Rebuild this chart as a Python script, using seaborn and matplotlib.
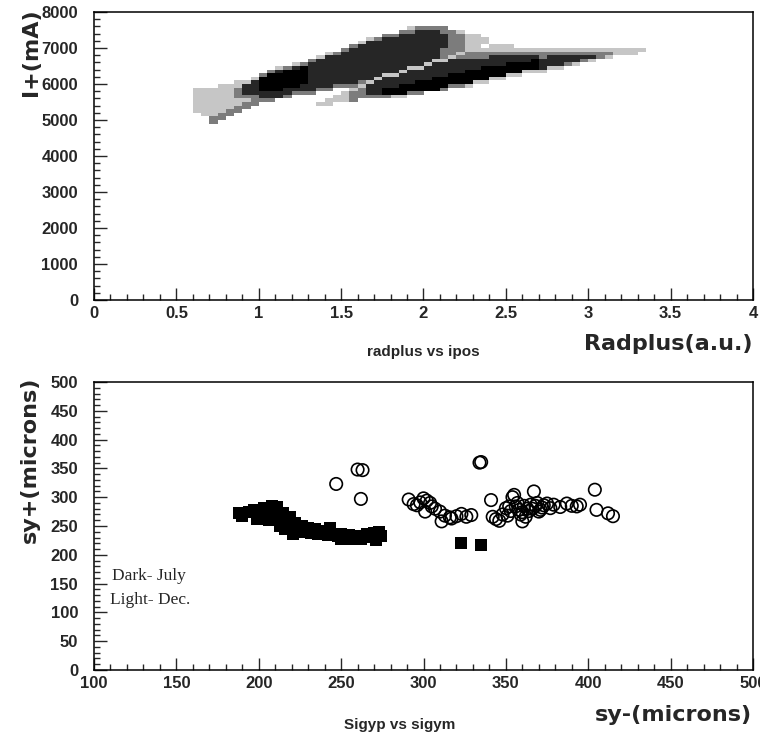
import matplotlib
matplotlib.use("Agg")
import matplotlib.pyplot as plt
from matplotlib.colors import ListedColormap
from matplotlib.ticker import MultipleLocator, FuncFormatter
import pandas as pd
import seaborn as sns

# ---------------- data ----------------
# Upper panel: density map of the radplus / ipos cloud.
# Each row is one 100 mA band (lower edge in cloud_y), each character one
# 0.05 a.u. column starting at radplus = 0.55 ('|' only groups columns by ten).
# ' ' empty, '.' sparse, ':' medium, '#' dense, '@' saturated
cloud_y = [7500, 7400, 7300, 7200, 7100, 7000, 6900, 6800, 6700, 6600, 6500,
           6400, 6300, 6200, 6100, 6000, 5900, 5800, 5700, 5600, 5500, 5400,
           5300, 5200, 5100, 5000, 4900]
cloud_rows = [
    "          |          |       .::|::        |          |      ",
    "          |          |      ::##|#::.      |          |      ",
    "          |          |    ::####|##::..    |          |      ",
    "          |          |  .:######|##::...   |          |      ",
    "          |          | .########|##::...   |          |      ",
    "          |          |:#########|##::.. ...|          |      ",
    "          |         :|##########|#:::......|..........|......",
    "          |       .:#|##########|#::.::::::|::::::::::|::... ",
    "          |      .###|##########|#:.::::###|###:######|:.    ",
    "          |     :####|##########|..########|##@#####:.|      ",
    "          |   .:#####|#########.|#########@|@@@###:.  |      ",
    "          | .:#@#####|#######..#|######@@@@|@@@#..    |      ",
    "          |:#@@@#####|######.###|####@@@@@@|@...      |      ",
    "         :|@@@@@#####|####..####|##@@@@@@@.|.         |      ",
    "        .@|@@@@@#####|###.######|@@@@@@@.. |          |      ",
    "      ..#@|@@@@@#####|#:.#####@@|@@@@@..   |          |      ",
    "    ...##@|@@@@####::|:.####@@@@|@@::.     |          |      ",
    " .....:##@|@@####::  |.:##@@@@@@|@:        |          |      ",
    " .....:###|###:::   .|::##@@@:: |          |          |      ",
    " .....:::#|##:     ..|:::::..   |          |          |      ",
    " .......::|:      ...|:         |          |          |      ",
    " ......:: |      ..  |          |          |          |      ",
    " .....::  |          |          |          |          |      ",
    " ....::   |          |          |          |          |      ",
    "  ..::    |          |          |          |          |      ",
    "   ::     |          |          |          |          |      ",
    "   :      |          |          |          |          |      ",
]
cloud_x0 = 0.55
cloud_dx = 0.05
cloud_dy = 100
cloud_levels = {".": 1, ":": 2, "#": 3, "@": 4}

# Lower panel: beam sizes, dark squares = July, open circles = December
july_sigym = [188, 190, 194, 197, 199, 201, 203, 205, 206, 208, 209, 211, 212,
              213, 215, 216, 217, 219, 220, 221, 222, 224, 226, 228, 230, 232,
              234, 236, 238, 240, 242, 243, 246, 248, 250, 250, 252, 255, 256,
              257, 259, 262, 264, 266, 267, 270, 271, 273, 274, 323, 335]
july_sigyp = [272, 268, 275, 278, 262, 270, 282, 276, 260, 284, 270, 283, 262,
              250, 272, 244, 258, 266, 248, 236, 255, 245, 250, 240, 246, 238,
              244, 236, 242, 240, 235, 247, 234, 232, 236, 228, 230, 234, 227,
              232, 230, 228, 233, 236, 231, 238, 226, 240, 233, 220, 217]
dec_sigym = [247, 260, 263, 262, 334, 335, 404, 291, 294, 296, 298, 300, 301,
             302, 304, 305, 307, 310, 311, 313, 316, 317, 320, 323, 326, 329,
             341, 342, 344, 346, 348, 350, 351, 352, 353, 354, 355, 356, 357,
             358, 359, 360, 360, 361, 362, 363, 364, 365, 366, 367, 368, 369,
             370, 371, 372, 373, 375, 377, 379, 383, 387, 390, 393, 395, 405,
             412, 415]
dec_sigyp = [323, 348, 347, 297, 360, 361, 313, 296, 288, 286, 291, 298, 275,
             294, 290, 284, 280, 275, 258, 268, 265, 263, 267, 271, 266, 269,
             295, 266, 262, 259, 270, 281, 268, 284, 276, 300, 304, 284, 290,
             278, 270, 274, 258, 285, 266, 280, 276, 287, 280, 310, 285, 290,
             275, 278, 282, 286, 289, 281, 287, 283, 289, 285, 284, 287, 278,
             272, 267]

# ---------------- style ----------------
sns.set_style("ticks")
plt.rcParams["font.family"] = ["Liberation Sans", "DejaVu Sans"]
plt.rcParams["font.weight"] = "bold"
plt.rcParams["axes.linewidth"] = 1.1

TITLE_FONT = dict(family=["DejaVu Sans"], weight="bold", size=16)
NOTE_FONT = dict(family=["Liberation Sans"], weight="bold", size=11)

W, H = 760, 734
fig = plt.figure(figsize=(W / 100, H / 100), dpi=100)
fig.patch.set_facecolor("white")

ax1 = fig.add_axes([94 / W, 1 - 300 / H, 659 / W, 288 / H])
ax2 = fig.add_axes([94 / W, 1 - 670 / H, 659 / W, 288 / H])


def style_axis(ax, xmaj, xmin, ymaj, ymin):
    ax.xaxis.set_major_locator(MultipleLocator(xmaj))
    ax.xaxis.set_minor_locator(MultipleLocator(xmin))
    ax.yaxis.set_major_locator(MultipleLocator(ymaj))
    ax.yaxis.set_minor_locator(MultipleLocator(ymin))
    ax.tick_params(which="major", direction="in", length=9, width=1.0,
                   labelsize=12, top=False, right=False)
    ax.tick_params(which="minor", direction="in", length=4.5, width=1.0,
                   top=False, right=False)
    ax.tick_params(axis="x", which="major", pad=4.5)
    ax.tick_params(axis="y", which="major", pad=11.5)
    for lab in ax.get_xticklabels() + ax.get_yticklabels():
        lab.set_fontweight("bold")
    ax.set_xlabel("")
    ax.set_ylabel("")
    ax.grid(False)
    for sp in ax.spines.values():
        sp.set_visible(True)
        sp.set_color("black")
        sp.set_linewidth(1.1)


# ---------------- upper panel: radplus vs ipos ----------------
cx, cy, cw = [], [], []
for y0, row in zip(cloud_y, cloud_rows):
    cells = row.replace("|", "")
    for i, ch in enumerate(cells):
        if ch in cloud_levels:
            cx.append(cloud_x0 + (i + 0.5) * cloud_dx)
            cy.append(y0 + 0.5 * cloud_dy)
            cw.append(cloud_levels[ch])
cloud = pd.DataFrame({"radplus": cx, "ipos": cy, "n": cw})
ncols = max(len(r.replace("|", "")) for r in cloud_rows)

cloud_cmap = ListedColormap(["#c6c6c6", "#7c7c7c", "#262626", "#000000"])
sns.histplot(data=cloud, x="radplus", y="ipos", weights="n",
             binwidth=(cloud_dx, cloud_dy),
             binrange=((cloud_x0, cloud_x0 + ncols * cloud_dx),
                       (min(cloud_y), max(cloud_y) + cloud_dy)),
             cmap=cloud_cmap, vmin=0.5, vmax=4.5, cbar=False, ax=ax1)

ax1.set_xlim(0, 4)
ax1.set_ylim(0, 8000)
style_axis(ax1, 0.5, 0.1, 1000, 200)
ax1.xaxis.set_major_formatter(FuncFormatter(lambda v, p: f"{v:g}"))

# ---------------- lower panel: sigyp vs sigym ----------------
july = pd.DataFrame({"sigym": july_sigym, "sigyp": july_sigyp})
dec = pd.DataFrame({"sigym": dec_sigym, "sigyp": dec_sigyp})
sns.scatterplot(data=dec, x="sigym", y="sigyp", marker="o", s=80,
                facecolor="none", edgecolor="black", linewidth=1.2, ax=ax2)
sns.scatterplot(data=july, x="sigym", y="sigyp", marker="s", s=78,
                color="black", linewidth=0, ax=ax2)

ax2.set_xlim(100, 500)
ax2.set_ylim(0, 500)
style_axis(ax2, 50, 10, 50, 10)

ax2.text(110.7, 163, "Dark- July", family=["Liberation Serif"],
         weight="normal", size=12.5, ha="left", va="center")
ax2.text(109.7, 121, "Light- Dec.", family=["Liberation Serif"],
         weight="normal", size=12.5, ha="left", va="center")

# ---------------- axis titles and captions ----------------
fig.text(31 / W, 1 - 8 / H, "I+(mA)", rotation=90, ha="center", va="top",
         **TITLE_FONT)
fig.text(753 / W, 1 - 344 / H, "Radplus(a.u.)", ha="right", va="center",
         **TITLE_FONT)
fig.text(423 / W, 1 - 352 / H, "radplus vs ipos", ha="center", va="center",
         **NOTE_FONT)

fig.text(30 / W, 1 - 377 / H, "sy+(microns)", rotation=90, ha="center",
         va="top", **TITLE_FONT)
fig.text(752 / W, 1 - 715 / H, "sy-(microns)", ha="right", va="center",
         **TITLE_FONT)
fig.text(400 / W, 1 - 725 / H, "Sigyp vs sigym", ha="center", va="center",
         **NOTE_FONT)

fig.savefig("out.png", dpi=100, facecolor="white")
